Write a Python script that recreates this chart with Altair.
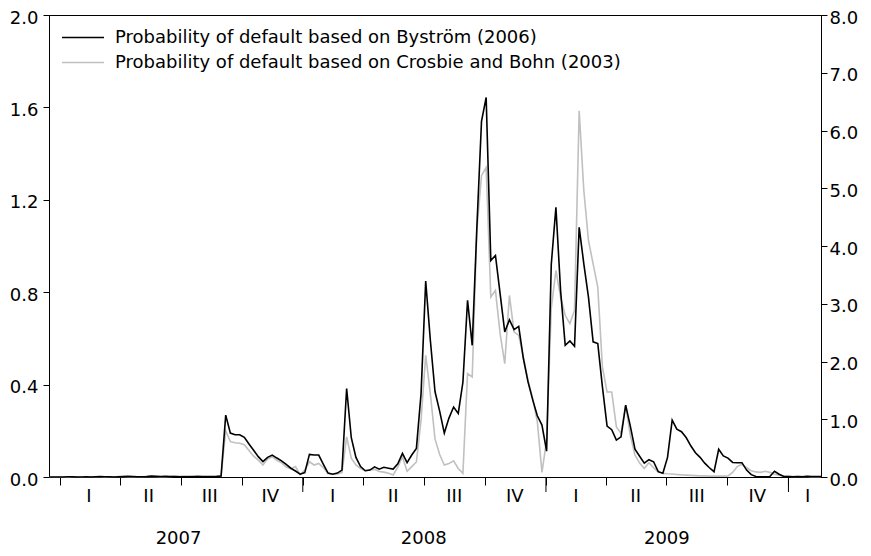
import altair as alt
import pandas as pd

# ---- data (weekly observations) ----
dates = pd.date_range("2006-12-15", periods=167, freq="7D").strftime("%Y-%m-%d").tolist()

# Probability of default based on Byström (2006) -- left axis
bystrom = [
    0.0, 0.0, 0.0, 0.0, 0.001, 0.001, 0.0, 0.0, 0.001, 0.0,
    0.001, 0.002, 0.001, 0.001, 0.0, 0.001, 0.002, 0.003, 0.002, 0.001,
    0.001, 0.002, 0.004, 0.003, 0.002, 0.003, 0.002, 0.002, 0.001, 0.001,
    0.001, 0.001, 0.002, 0.001, 0.001, 0.001, 0.002,
    0.004, 0.268, 0.19, 0.183, 0.183, 0.172, 0.143, 0.116, 0.088, 0.067,
    0.085, 0.095, 0.082, 0.07, 0.055, 0.038, 0.026, 0.012, 0.019, 0.098,
    0.095, 0.095, 0.055, 0.017, 0.012, 0.017, 0.03, 0.383, 0.17, 0.085,
    0.045, 0.027, 0.03, 0.044, 0.034, 0.042, 0.038, 0.034, 0.057, 0.102,
    0.062, 0.095, 0.124, 0.36, 0.848, 0.592, 0.37, 0.285, 0.19, 0.255,
    0.303, 0.275, 0.41, 0.765, 0.57, 1.08, 1.54, 1.643, 0.937, 0.959,
    0.794, 0.628, 0.681, 0.638, 0.652, 0.513, 0.412, 0.335, 0.265, 0.225,
    0.112, 0.92, 1.168, 0.808, 0.57, 0.589, 0.566, 1.081, 0.923, 0.779,
    0.585, 0.578, 0.39, 0.22, 0.205, 0.16, 0.174, 0.311, 0.22, 0.12,
    0.09, 0.06, 0.075, 0.066, 0.023, 0.016, 0.085, 0.246, 0.207, 0.196,
    0.171, 0.135, 0.105, 0.085, 0.06, 0.04, 0.023, 0.12, 0.091, 0.082,
    0.063, 0.062, 0.062, 0.03, 0.01, 0.002, 0.001, 0.001, 0.002, 0.025,
    0.012, 0.002, 0.002, 0.001, 0.002, 0.001, 0.003, 0.002, 0.002, 0.002,
]

# Probability of default based on Crosbie and Bohn (2003) -- right axis
crosbie = [
    0.0, 0.0, 0.0, 0.0, 0.0, 0.004, 0.004, 0.0, 0.0, 0.004,
    0.004, 0.004, 0.0, 0.004, 0.004, 0.008, 0.008, 0.004, 0.004, 0.004,
    0.004, 0.008, 0.008, 0.008, 0.004, 0.004, 0.008, 0.012, 0.012, 0.016,
    0.016, 0.02, 0.02, 0.02, 0.02, 0.02, 0.02,
    0.02, 0.8, 0.612, 0.592, 0.584, 0.56, 0.46, 0.36, 0.292, 0.208,
    0.312, 0.352, 0.288, 0.248, 0.172, 0.144, 0.18, 0.04, 0.12, 0.264,
    0.208, 0.236, 0.16, 0.06, 0.052, 0.052, 0.076, 0.696, 0.324, 0.208,
    0.148, 0.108, 0.12, 0.132, 0.096, 0.084, 0.064, 0.036, 0.172, 0.352,
    0.1, 0.18, 0.26, 0.984, 2.108, 1.44, 0.66, 0.388, 0.208, 0.232,
    0.28, 0.148, 0.064, 1.792, 1.732, 4.268, 5.22, 5.36, 3.116, 3.232,
    2.484, 1.964, 3.144, 2.512, 2.452, 2.08, 1.676, 1.36, 0.96, 0.08,
    0.64, 2.92, 3.576, 3.116, 2.8, 2.656, 2.884, 6.34, 4.96, 4.096,
    3.692, 3.288, 1.904, 1.472, 1.472, 0.868, 0.756, 1.244, 0.72, 0.38,
    0.24, 0.148, 0.248, 0.16, 0.088, 0.064, 0.056, 0.052, 0.044, 0.036,
    0.032, 0.028, 0.024, 0.02, 0.02, 0.016, 0.016, 0.016, 0.016, 0.02,
    0.08, 0.18, 0.22, 0.16, 0.108, 0.088, 0.08, 0.1, 0.08, 0.048,
    0.032, 0.016, 0.012, 0.008, 0.008, 0.008, 0.008, 0.004, 0.004, 0.004,
]

SERIES = [
    "Probability of default based on Byström (2006)",
    "Probability of default based on Crosbie and Bohn (2003)",
]
COLORS = ["#000000", "#c0c0c0"]

left_ticks = [0.0, 0.4, 0.8, 1.2, 1.6, 2.0]
right_ticks = [0, 1, 2, 3, 4, 5, 6, 7, 8]

quarter_starts = [(y, m) for y in (2007, 2008, 2009) for m in (1, 4, 7, 10)] + [(2010, 1)]
quarter_mid = ["2007-02-13", "2007-05-14", "2007-08-14", "2007-11-13",
               "2008-02-15", "2008-05-16", "2008-08-16", "2008-11-15",
               "2009-02-15", "2009-05-16", "2009-08-16", "2009-11-15",
               "2010-01-30"]
quarter_labels = ["I", "II", "III", "IV"] * 3 + ["I"]
year_starts = ["2008-01-01", "2009-01-01", "2010-01-01"]
year_mid = ["2007-06-28", "2008-07-01", "2009-07-02"]
year_labels = ["2007", "2008", "2009"]

# ---- tables ----
df_b = pd.DataFrame({"date": dates, "value": bystrom, "series": SERIES[0]})
df_c = pd.DataFrame({"date": dates, "value": crosbie, "series": SERIES[1]})
df_q = pd.DataFrame({"date": quarter_mid, "label": quarter_labels})
df_y = pd.DataFrame({"date": year_mid, "label": year_labels})
df_ys = pd.DataFrame({"date": year_starts})

FONT = "DejaVu Sans"
FS = 18
W, H = 772, 462

d0 = pd.Timestamp(dates[0])
d1 = pd.Timestamp(dates[-1])
x_scale = alt.Scale(domain=[alt.DateTime(year=d0.year, month=d0.month, date=d0.day),
                            alt.DateTime(year=d1.year, month=d1.month, date=d1.day)])
x_axis = alt.Axis(
    values=[alt.DateTime(year=y, month=m, date=1) for y, m in quarter_starts],
    labels=False, title=None, grid=False, tickSize=8, tickColor="black",
    domainColor="black",
)

color = alt.Color(
    "series:N",
    scale=alt.Scale(domain=SERIES, range=COLORS),
    legend=alt.Legend(
        title=None, orient="none", legendX=12, legendY=11,
        symbolType="stroke", symbolSize=1764, symbolStrokeWidth=1.6,
        labelFont=FONT, labelFontSize=FS, labelColor="black", labelLimit=0,
        labelOffset=10, clipHeight=23, rowPadding=2, direction="vertical",
    ),
)

y_axis_common = dict(format=".1f", title=None, grid=False, tickSize=6,
                     labelOffset=3, tickColor="black", domainColor="black")

black = alt.Chart(df_b).mark_line(strokeWidth=1.6).encode(
    x=alt.X("date:T", scale=x_scale, axis=x_axis),
    y=alt.Y("value:Q", scale=alt.Scale(domain=[0, 2], nice=False),
            axis=alt.Axis(orient="left", values=left_ticks, labelPadding=5, **y_axis_common)),
    color=color,
)

gray = alt.Chart(df_c).mark_line(strokeWidth=1.6).encode(
    x=alt.X("date:T", scale=x_scale, axis=x_axis),
    y=alt.Y("value:Q", scale=alt.Scale(domain=[0, 8], nice=False),
            axis=alt.Axis(orient="right", values=right_ticks, labelPadding=2, **y_axis_common)),
    color=color,
)

qtext = alt.Chart(df_q).mark_text(font=FONT, fontSize=FS, color="black", baseline="middle").encode(
    x=alt.X("date:T"), y=alt.value(H + 20), text="label:N"
)
ytext = alt.Chart(df_y).mark_text(font=FONT, fontSize=FS, color="black", baseline="middle").encode(
    x=alt.X("date:T"), y=alt.value(H + 62), text="label:N"
)
yticks = alt.Chart(df_ys).mark_rule(color="black", strokeWidth=1).encode(
    x=alt.X("date:T"), y=alt.value(H), y2=alt.value(H + 15)
)

chart = alt.layer(gray, black, yticks, qtext, ytext).resolve_scale(
    y="independent"
).properties(
    width=W, height=H,
    padding={"left": 41, "top": 7, "right": 42, "bottom": 71},
    autosize=alt.AutoSizeParams(type="none"),
    background="white",
).configure_view(
    stroke="black", strokeWidth=1
).configure_axis(
    labelFont=FONT, labelFontSize=FS, labelColor="black"
)

chart.save("out.html", embed_options={"renderer": "svg", "actions": False})
